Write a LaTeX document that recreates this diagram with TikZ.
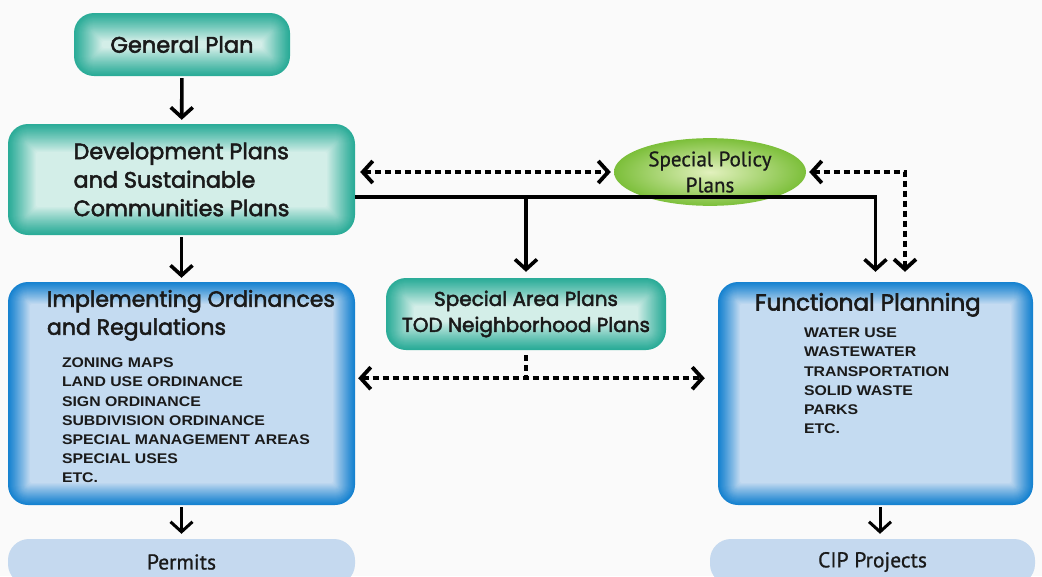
\documentclass[tikz,border=0pt]{standalone}
\usepackage{fontspec}
\newfontfamily\headfont[FakeBold=2.4]{Poppins}
\newfontfamily\labelfont[FakeBold=0.8]{PT Sans}
\newfontfamily\listfont[FakeStretch=1.13]{Liberation Sans}
\usetikzlibrary{arrows.meta,calc,positioning,shapes.geometric}

\definecolor{tealedge}{HTML}{2BAC98}
\definecolor{tealcore}{HTML}{D3EEE8}
\definecolor{blueedge}{HTML}{1682D0}
\definecolor{bluecore}{HTML}{C4DBF1}
\definecolor{limeedge}{HTML}{7CBF3A}
\definecolor{limecore}{HTML}{E2F1BE}
\definecolor{paleblue}{HTML}{C5D9EF}
\definecolor{ink}{HTML}{1A1A1A}
\definecolor{backdrop}{HTML}{FAFAFA}

% box with a soft inner glow from edge colour to core colour
\tikzset{
  glowbox/.style n args={3}{fill=#1, rounded corners=20pt, inner sep=0pt,
    path picture={
      \foreach \i in {1,...,#3}{
        \pgfmathtruncatemacro\mix{100*(\i/#3)^1.1}
        \pgfmathsetmacro\rad{max(20-\i,2)}
        \fill[#2!\mix!#1, rounded corners=\rad pt]
          ([xshift=\i pt,yshift=-\i pt]path picture bounding box.north west) rectangle
          ([xshift=-\i pt,yshift=\i pt]path picture bounding box.south east);
      }}},
}

\begin{document}
\begin{tikzpicture}[
    x=1pt, y=-1pt,
    plan/.style={glowbox={tealedge}{tealcore}{28}, text=ink, font=\headfont},
    rule/.style={glowbox={blueedge}{bluecore}{22}},
    policy/.style={ellipse, inner color=limecore, outer color=limeedge,
      minimum width=192pt, minimum height=62pt, align=center, text=ink,
      font=\labelfont\fontsize{21}{26}\selectfont},
    outcome/.style={fill=paleblue, rounded corners=21pt, minimum height=46pt,
      text=ink, font=\labelfont\fontsize{21.5}{24}\selectfont},
    heading/.style={anchor=north west, inner sep=0pt, align=left, text=ink,
      font=\headfont\fontsize{22}{28}\selectfont},
    items/.style={anchor=north west, inner sep=0pt, align=left, text=ink,
      font=\listfont\bfseries\fontsize{14}{19.2}\selectfont},
    flow/.style={line width=3.6pt, -{Straight Barb[length=10pt,width=22pt]}},
    link/.style={line width=3.8pt, dash pattern=on 6pt off 4pt},
    >={Straight Barb[length=10pt,width=22pt]}
  ]
  \clip (0,0) rectangle (1042,576);
  \fill[backdrop] (0,0) rectangle (1042,576);

  % top of the hierarchy
  \node[plan, minimum width=216pt, minimum height=63pt,
    font=\headfont\fontsize{22.5}{25}\selectfont] (general) at (182,44.5) {General Plan};
  \node[plan, minimum width=347pt, minimum height=111pt, align=left,
    font=\headfont\fontsize{22.3}{28.5}\selectfont] (develop) at (181.5,179.5)
    {Development Plans\\and Sustainable\\Communities Plans};
  \node[policy] (policy) at (710,172) {Special Policy\\Plans};

  % middle row
  \node[rule, minimum width=347pt, minimum height=223pt] (implement) at (181.5,393.5) {};
  \node[heading] (impltitle) at ($(implement.north west)+(39,8)$)
    {Implementing Ordinances\\and Regulations};
  \node[items] (impllist) at ($(implement.north west)+(54,76)$)
    {ZONING MAPS\\LAND USE ORDINANCE\\SIGN ORDINANCE\\SUBDIVISION ORDINANCE\\
     SPECIAL MANAGEMENT AREAS\\SPECIAL USES\\ETC.};

  \node[plan, minimum width=280pt, minimum height=72pt, align=center,
    font=\headfont\fontsize{20}{26}\selectfont] (area) at (526,314)
    {Special Area Plans\\TOD Neighborhood Plans};

  \node[rule, minimum width=315pt, minimum height=223pt] (functional) at (875.5,393.5) {};
  \node[heading, font=\headfont\fontsize{23}{28}\selectfont] (functitle)
    at ($(functional.north west)+(37,11)$) {Functional Planning};
  \node[items] (funclist) at ($(functional.north west)+(86,46)$)
    {WATER USE\\WASTEWATER\\TRANSPORTATION\\SOLID WASTE\\PARKS\\ETC.};

  % results
  \node[outcome, minimum width=347pt] (permits) at (181.5,562) {Permits};
  \node[outcome, minimum width=325pt] (cip) at (872.5,562) {CIP Projects};

  \coordinate (bus) at (875,197);
  \coordinate[below=28pt of area.south] (tee);

  % connectors
  \draw[flow, shorten <=2pt, shorten >=4pt] (general) -- (develop);
  \draw[flow, shorten <=2pt, shorten >=4pt] (develop) -- (implement);
  \draw[flow, line width=3pt, shorten <=2pt, shorten >=5pt] (implement) -- (permits);
  \draw[flow, line width=3pt, shorten <=2pt, shorten >=5pt]
    ([xshift=4.5pt]functional.south) -- ([xshift=4.5pt]functional.south |- cip.north);
  \draw[link, <->, shorten <=5pt, shorten >=3pt] (develop.east |- policy.west) -- (policy.west);
  \draw[flow, shorten >=10pt] (develop.east |- bus) -| (functional.north);
  \draw[flow, shorten >=6pt] (area.north |- bus) -- (area.north);
  \draw[link, <->, shorten <=3pt, shorten >=10pt]
    (policy.east) -| ([xshift=29.5pt]functional.north);
  \draw[link, shorten <=5pt] (area.south) -- (tee);
  \draw[link, <->, shorten <=3pt, shorten >=13pt] (implement.east |- tee) -- (functional.west |- tee);
\end{tikzpicture}
\end{document}
